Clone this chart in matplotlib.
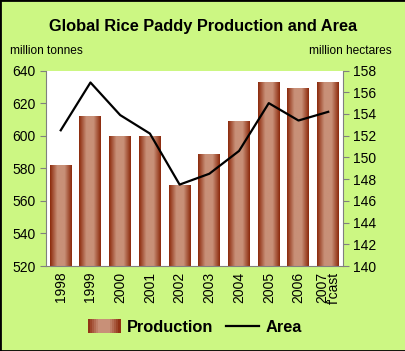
import matplotlib.pyplot as plt
import numpy as np
from matplotlib.colors import LinearSegmentedColormap
from matplotlib.lines import Line2D
from matplotlib.patches import Patch, Rectangle
from matplotlib.legend_handler import HandlerBase

years = ["1998", "1999", "2000", "2001", "2002", "2003", "2004", "2005", "2006", "2007\nf'cast"]
production = [582, 612, 600, 600, 570, 589, 609, 633, 629, 633]
area = [152.5, 156.9, 153.9, 152.2, 147.5, 148.5, 150.6, 155.0, 153.4, 154.2]

bg = "#ccf783"
plt.rcParams['font.family'] = ['Liberation Sans', 'DejaVu Sans']

# horizontal gradient: dark edges, light middle
cmap = LinearSegmentedColormap.from_list("rice", ["#8c2a0c", "#c89078", "#c89078", "#8c2a0c"])


class GradientHandler(HandlerBase):
    def create_artists(self, legend, orig_handle, xdescent, ydescent, width, height, fontsize, trans):
        n = 16
        arts = []
        for i in range(n):
            r = Rectangle((-xdescent + width * i / n, -ydescent - 1), width / n + 0.3, height + 2,
                          facecolor=cmap((i + 0.5) / n), edgecolor="none", transform=trans)
            arts.append(r)
        return arts


fig = plt.figure(figsize=(4.06, 3.51), dpi=100, facecolor=bg)
fig.patches.append(plt.Rectangle((0, 0), 1, 1, transform=fig.transFigure,
                                 fill=False, edgecolor="black", linewidth=2))
ax = fig.add_axes([0.113, 0.242, 0.732, 0.557])
ax.set_facecolor("white")

x = np.arange(len(years))
bars = ax.bar(x, production, width=0.74, color="#a04a2a", zorder=2)

grad = np.linspace(0, 1, 64).reshape(1, -1)
for b in bars:
    im = ax.imshow(grad, cmap=cmap, aspect="auto", zorder=2.5,
                   extent=[b.get_x(), b.get_x() + b.get_width(), 520, b.get_height()])
    im.set_clip_path(b)

ax.set_xlim(-0.5, len(years) - 0.5)
ax.set_ylim(520, 640)
ax.set_yticks(range(520, 641, 20))
ax.set_xticks(x)
ax.set_xticklabels(years, rotation=90, fontsize=10, linespacing=0.8)

ax2 = ax.twinx()
ax2.plot(x, area, color="black", linewidth=1.6, zorder=3)
ax2.set_ylim(140, 158)
ax2.set_yticks(range(140, 159, 2))

for a in (ax, ax2):
    for s in a.spines.values():
        s.set_visible(False)
    a.tick_params(colors="#808080", labelcolor="black", labelsize=10, length=4)
ax.spines["left"].set_visible(True)
ax.spines["left"].set_color("#808080")
ax.spines["bottom"].set_visible(True)
ax.spines["bottom"].set_color("#808080")
ax2.spines["right"].set_visible(True)
ax2.spines["right"].set_color("#808080")
ax.tick_params(axis="x", length=0, pad=4)

fig.text(0.5, 0.925, "Global Rice Paddy Production and Area", ha="center", va="center",
         fontsize=11.8, fontweight="bold")
fig.text(0.025, 0.855, "million tonnes", ha="left", va="center", fontsize=8.6)
fig.text(0.965, 0.855, "million hectares", ha="right", va="center", fontsize=8.6)

handles = [Patch(facecolor="#b06a4c", edgecolor="none"),
           Line2D([0], [0], color="black", linewidth=1.6)]
fig.legend(handles, ["Production", "Area"], loc="center", bbox_to_anchor=(0.48, 0.068),
           ncol=2, frameon=False, prop={"weight": "bold", "size": 11.8},
           handlelength=2.0, columnspacing=0.8, handletextpad=0.4,
           handler_map={Patch: GradientHandler()})

fig.savefig("out.png", dpi=100, facecolor=bg)
